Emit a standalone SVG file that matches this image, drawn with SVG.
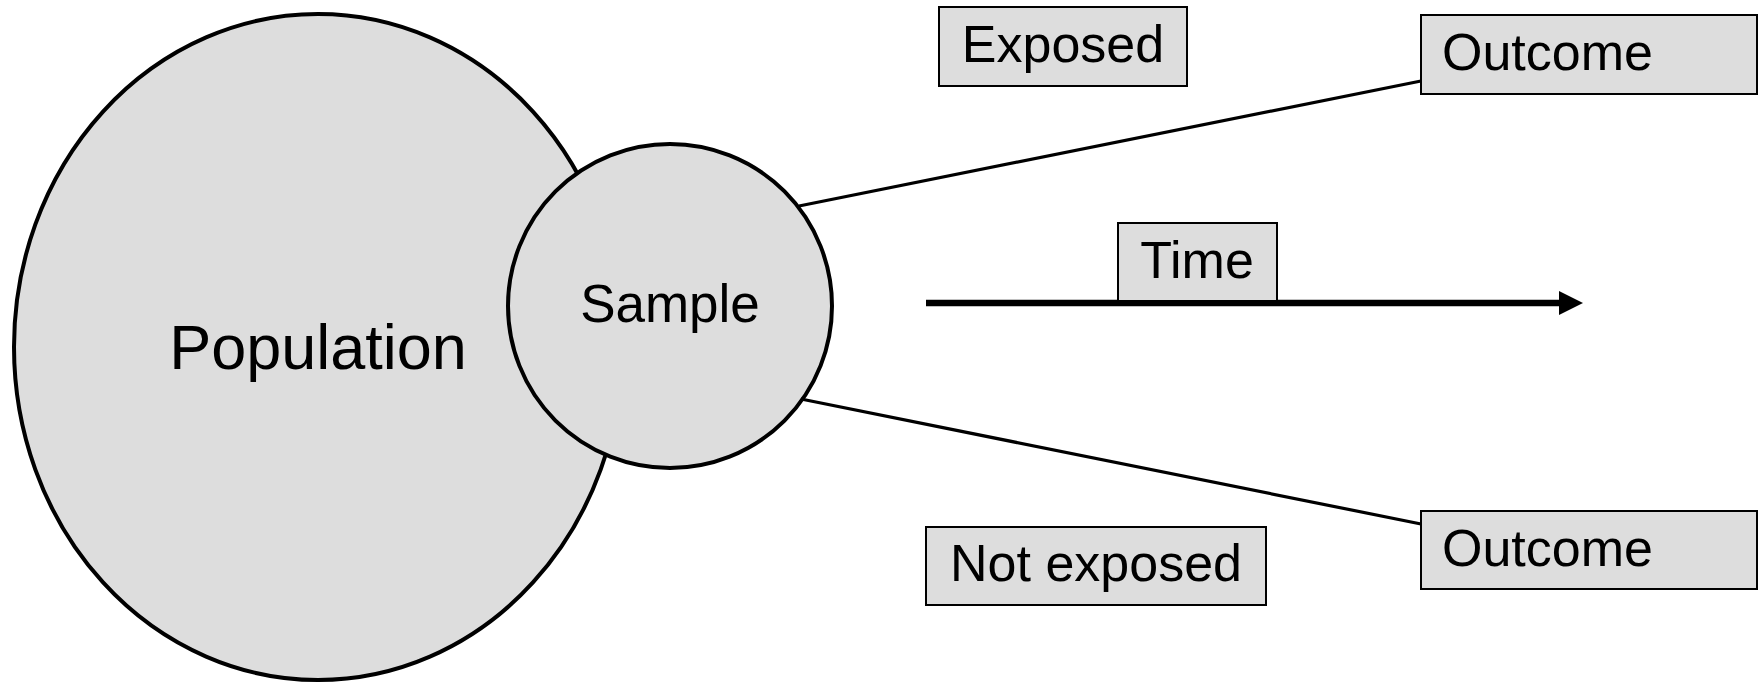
<svg xmlns="http://www.w3.org/2000/svg" width="1764" height="682" viewBox="0 0 1764 682">
<style>
.shape{fill:#dddddd;stroke:#000;stroke-width:4}
.box{fill:#dddddd;stroke:#000;stroke-width:2}
.conn{stroke:#000;stroke-width:3.2;fill:none}
text{font-family:"Liberation Sans",Arial,sans-serif;fill:#000}
.lbl{font-size:52px}
</style>
<defs>
<marker id="arrow" markerUnits="userSpaceOnUse" markerWidth="26" markerHeight="26" refX="0" refY="12" orient="auto">
<path d="M0,0 L24,12 L0,24 Z" fill="#000"/>
</marker>
</defs>
<g id="population">
<ellipse class="shape" cx="318" cy="347" rx="304" ry="333"/>
<text x="318" y="369" font-size="63" text-anchor="middle">Population</text>
</g>
<g id="sample">
<circle class="shape" cx="670" cy="306" r="162"/>
<text x="670" y="322" font-size="53" text-anchor="middle">Sample</text>
</g>
<g id="connectors">
<line class="conn" x1="799" y1="206" x2="1421" y2="81"/>
<line class="conn" x1="801" y1="399" x2="1421" y2="524"/>
<line x1="926" y1="303" x2="1559" y2="303" stroke="#000" stroke-width="6.5" marker-end="url(#arrow)"/>
</g>
<g id="exposed">
<rect class="box" x="939" y="7" width="248" height="79"/>
<text class="lbl" x="1063" y="62" text-anchor="middle">Exposed</text>
</g>
<g id="outcome-top">
<rect class="box" x="1421" y="15" width="336" height="79"/>
<text class="lbl" x="1442" y="70">Outcome</text>
</g>
<g id="time">
<rect class="box" x="1118" y="223" width="159" height="78"/>
<text class="lbl" x="1197" y="278" text-anchor="middle">Time</text>
</g>
<g id="outcome-bottom">
<rect class="box" x="1421" y="511" width="336" height="78"/>
<text class="lbl" x="1442" y="566">Outcome</text>
</g>
<g id="not-exposed">
<rect class="box" x="926" y="527" width="340" height="78"/>
<text class="lbl" x="1096" y="581" text-anchor="middle">Not exposed</text>
</g>
</svg>
